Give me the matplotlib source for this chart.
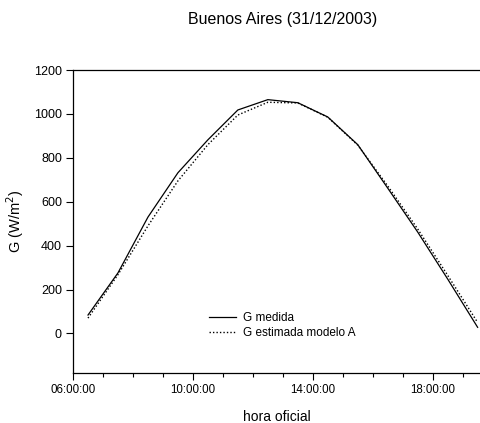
import matplotlib
matplotlib.use("Agg")
import matplotlib.pyplot as plt
from matplotlib.ticker import FuncFormatter, MultipleLocator, FixedLocator

plt.rcParams['font.family'] = ['Liberation Sans', 'DejaVu Sans']

horas = ["06:30", "07:30", "08:30", "09:30", "10:30", "11:30", "12:30",
         "13:30", "14:30", "15:30", "16:30", "17:30", "18:30", "19:30"]
g_medida = [84, 276, 530, 732, 882, 1018, 1065, 1051, 986, 860, 662, 462, 248, 28]
g_modelo_a = [70, 268, 490, 695, 860, 995, 1053, 1050, 985, 858, 672, 476, 265, 50]
horas_ticks = [6, 10, 14, 18]


def to_hours(s):
    h, m = s.split(":")
    return int(h) + int(m) / 60


x = [to_hours(h) for h in horas]

fig = plt.figure(figsize=(4.81, 4.23), dpi=100)
ax = fig.add_axes([0.1518, 0.1182, 0.8462, 0.7163])

ax.plot(x, g_medida, color="black", lw=0.9, label="G medida")
ax.plot(x, g_modelo_a, color="black", lw=1.0, ls=(0, (1, 1.5)), label="G estimada modelo A")

ax.set_xlim(6, 19.58)
ax.set_ylim(-180, 1200)
ax.set_yticks(range(0, 1201, 200))
ax.xaxis.set_major_locator(FixedLocator(horas_ticks))
ax.xaxis.set_minor_locator(MultipleLocator(1))
ax.xaxis.set_major_formatter(FuncFormatter(lambda v, p: "%02d:00:00" % int(round(v))))

ax.spines["right"].set_visible(False)
for s in ["left", "bottom", "top"]:
    ax.spines[s].set_linewidth(0.9)
ax.tick_params(axis="both", which="major", direction="out", length=5, width=0.8, pad=3)
ax.tick_params(axis="x", which="major", labelsize=8.3)
ax.tick_params(axis="y", which="major", labelsize=9)
ax.tick_params(axis="x", which="minor", direction="out", length=3, width=0.8)

ax.set_xlabel("hora oficial", fontsize=10, labelpad=10)
ax.set_ylabel("G (W/m$^2$)", fontsize=10.5, labelpad=6)
fig.text(0.588, 0.953, "Buenos Aires (31/12/2003)", fontsize=11.5, ha="center", va="center")

ax.legend(loc="center left", bbox_to_anchor=(0.322, 0.157), frameon=False, fontsize=8.5,
          handlelength=2.3, handletextpad=0.6, labelspacing=0.25, borderaxespad=0)

fig.savefig("out.png", dpi=100)
